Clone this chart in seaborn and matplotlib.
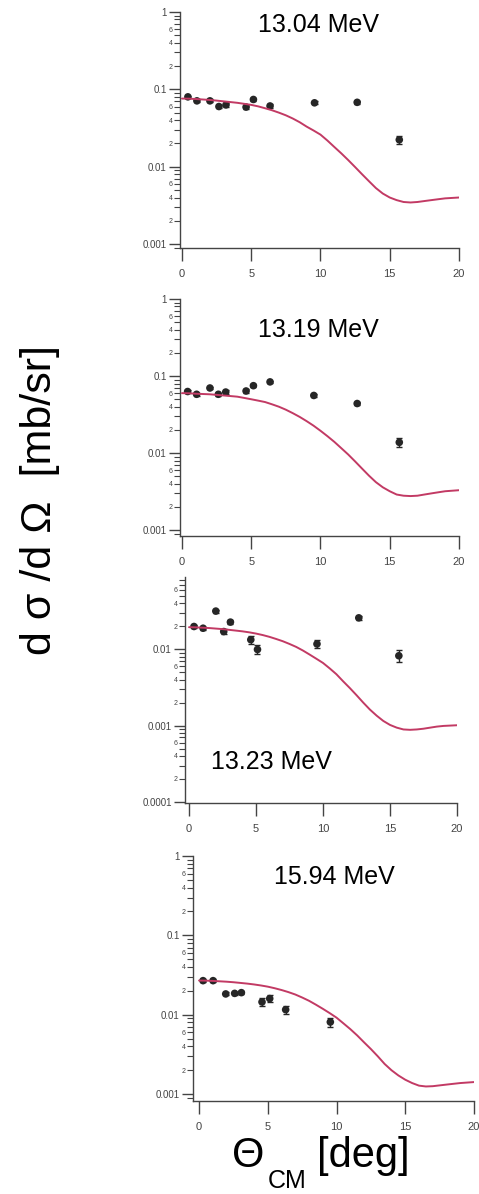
import numpy as np
import matplotlib
matplotlib.use("Agg")
import matplotlib.pyplot as plt
from matplotlib.ticker import FixedLocator, FixedFormatter
import seaborn as sns

# ---- measured angular distributions (theta_CM in deg, dsigma/dOmega in mb/sr) ----
theta_1304 = [0.43, 1.08, 2.02, 2.67, 3.18, 4.63, 5.16, 6.36, 9.57, 12.65, 15.69]
xs_1304 = [0.080, 0.071, 0.071, 0.060, 0.063, 0.059, 0.074, 0.061, 0.067, 0.068, 0.0223]
err_1304 = [0.003, 0.003, 0.003, 0.003, 0.003, 0.003, 0.003, 0.003, 0.003, 0.003, 0.0025]

theta_1319 = [0.41, 1.06, 2.02, 2.63, 3.16, 4.63, 5.16, 6.36, 9.52, 12.65, 15.69]
xs_1319 = [0.063, 0.058, 0.070, 0.058, 0.062, 0.064, 0.075, 0.084, 0.056, 0.044, 0.0138]
err_1319 = [0.003, 0.003, 0.003, 0.003, 0.003, 0.003, 0.003, 0.003, 0.003, 0.002, 0.0018]

theta_1323 = [0.37, 1.05, 2.00, 2.59, 3.09, 4.61, 5.11, 9.55, 12.67, 15.66]
xs_1323 = [0.0198, 0.0188, 0.0315, 0.0170, 0.0226, 0.0133, 0.0099, 0.0117, 0.0257, 0.0082]
err_1323 = [0.0010, 0.0008, 0.0015, 0.0012, 0.0015, 0.0015, 0.0013, 0.0013, 0.0015, 0.0015]

theta_1594 = [0.29, 1.02, 1.94, 2.59, 3.08, 4.58, 5.14, 6.30, 9.55]
xs_1594 = [0.0269, 0.0269, 0.0183, 0.0186, 0.0190, 0.0145, 0.0160, 0.0116, 0.0081]
err_1594 = [0.0012, 0.0012, 0.0008, 0.0008, 0.0008, 0.0017, 0.0017, 0.0013, 0.0010]

# ---- calculated distributions, every 0.5 deg from 0 to 20 ----
theta_calc = [i * 0.5 for i in range(41)]
calc_1304 = [0.0760, 0.0758, 0.0750, 0.0740, 0.0730, 0.0716, 0.0700, 0.0685, 0.0670,
             0.0650, 0.0630, 0.0603, 0.0570, 0.0537, 0.0500, 0.0462, 0.0420, 0.0376,
             0.0330, 0.0294, 0.0260, 0.0218, 0.0180, 0.0149, 0.0122, 0.0099, 0.0080,
             0.0065, 0.0053, 0.0045, 0.0040, 0.0037, 0.0035, 0.00345, 0.0035, 0.0036,
             0.0037, 0.0038, 0.0039, 0.00395, 0.0040]
calc_1319 = [0.0600, 0.0598, 0.0590, 0.0585, 0.0580, 0.0570, 0.0560, 0.0550, 0.0540,
             0.0520, 0.0500, 0.0480, 0.0460, 0.0430, 0.0400, 0.0366, 0.0330, 0.0295,
             0.0260, 0.0227, 0.0195, 0.0166, 0.0140, 0.0116, 0.0096, 0.0078, 0.0063,
             0.0051, 0.0042, 0.0036, 0.0032, 0.0029, 0.0028, 0.00277, 0.0028, 0.0029,
             0.0030, 0.0031, 0.0032, 0.00325, 0.0033]
calc_1323 = [0.0194, 0.0193, 0.0191, 0.0189, 0.0186, 0.0183, 0.0179, 0.0175, 0.0171,
             0.0166, 0.0160, 0.0153, 0.0145, 0.0136, 0.0127, 0.0117, 0.0107, 0.0096,
             0.0085, 0.0075, 0.0066, 0.0056, 0.0047, 0.0038, 0.0031, 0.0025, 0.0020,
             0.00162, 0.00135, 0.00115, 0.00102, 0.00094, 0.00089, 0.00088, 0.00089,
             0.00091, 0.00094, 0.00097, 0.00099, 0.00100, 0.00101]
calc_1594 = [0.0270, 0.0269, 0.0267, 0.0264, 0.0261, 0.0257, 0.0252, 0.0247, 0.0241,
             0.0234, 0.0226, 0.0216, 0.0205, 0.0193, 0.0180, 0.0165, 0.0150, 0.0134,
             0.0119, 0.0105, 0.0092, 0.0078, 0.0066, 0.0055, 0.0045, 0.0037, 0.0030,
             0.0024, 0.0020, 0.00172, 0.00152, 0.00138, 0.00128, 0.00125, 0.00126,
             0.00129, 0.00132, 0.00135, 0.00138, 0.00140, 0.00142]

energy_labels = ["13.04 MeV", "13.19 MeV", "13.23 MeV", "15.94 MeV"]
x_ticks = [0, 5, 10, 15, 20]

sns.set_theme(style="ticks")
plt.rcParams["font.family"] = ["Liberation Sans", "DejaVu Sans"]

W, H = 479, 1194
fig = plt.figure(figsize=(W / 100, H / 100), dpi=100)

CURVE = "#c23a64"
POINT = "#262626"
AXC = "#444444"


def add_panel(px_left, px_right, px_top, px_bottom):
    return fig.add_axes([px_left / W, 1 - px_bottom / H,
                         (px_right - px_left) / W, (px_bottom - px_top) / H])


def decorate(ax, xlim, ylim):
    ax.set_yscale("log")
    ax.set_xlim(*xlim)
    ax.set_ylim(*ylim)
    sns.despine(ax=ax)
    for s in ("left", "bottom"):
        ax.spines[s].set_color(AXC)
        ax.spines[s].set_linewidth(1.0)
    ax.set_xticks(x_ticks)
    ax.set_xticklabels([str(t) for t in x_ticks])
    lo, hi = ylim
    d0, d1 = int(np.floor(np.log10(lo))), int(np.ceil(np.log10(hi)))
    majors = [10.0 ** k for k in range(d0, d1 + 1) if lo <= 10.0 ** k <= hi * 1.0001]
    ax.yaxis.set_major_locator(FixedLocator(majors))
    ax.yaxis.set_major_formatter(FixedFormatter(
        [("%.4f" % m).rstrip("0").rstrip(".") if m < 1 else "1" for m in majors]))
    minors, mlabels = [], []
    for k in range(d0, d1):
        for m in range(2, 10):
            v = m * 10.0 ** k
            if lo <= v <= hi:
                minors.append(v)
                mlabels.append(str(m) if m in (2, 4, 6) else "")
    ax.yaxis.set_minor_locator(FixedLocator(minors))
    ax.yaxis.set_minor_formatter(FixedFormatter(mlabels))
    ax.tick_params(axis="y", which="major", length=8, width=1, labelsize=7,
                   colors=AXC, pad=1.5)
    ax.tick_params(axis="y", which="minor", length=4, width=0.8, labelsize=5,
                   colors=AXC, pad=1.5)
    ax.tick_params(axis="x", which="major", length=9, width=1, labelsize=8,
                   colors=AXC, pad=6)
    ax.tick_params(axis="x", which="minor", length=0)
    ax.set_xlabel("")
    ax.set_ylabel("")
    ax.set_facecolor("white")


def draw(ax, th, xs, err, calc):
    ax.errorbar(th, xs, yerr=err, fmt="none", ecolor=POINT, elinewidth=1.0,
                capsize=2.5, capthick=1.0, zorder=2)
    sns.scatterplot(x=th, y=xs, ax=ax, color=POINT, s=30, edgecolor="none",
                    zorder=3, legend=False)
    sns.lineplot(x=theta_calc, y=calc, ax=ax, color=CURVE, lw=1.4, zorder=4,
                 legend=False)


panels = [
    (add_panel(180, 459, 12, 248), (-0.14, 20), (0.00089, 1.0),
     theta_1304, xs_1304, err_1304, calc_1304),
    (add_panel(180, 459, 299, 536), (-0.14, 20), (0.00084, 1.0),
     theta_1319, xs_1319, err_1319, calc_1319),
    (add_panel(185, 457, 577, 803), (-0.30, 20), (0.000097, 0.088),
     theta_1323, xs_1323, err_1323, calc_1323),
    (add_panel(193, 474, 856, 1101), (-0.44, 20), (0.00082, 1.0),
     theta_1594, xs_1594, err_1594, calc_1594),
]

for ax, xl, yl, th, xs, err, calc in panels:
    draw(ax, th, xs, err, calc)
    decorate(ax, xl, yl)

# energy labels
label_pos = [(318, 25), (318, 330), (271, 762), (334, 877)]
for (x, y), txt in zip(label_pos, energy_labels):
    fig.text(x / W, 1 - y / H, txt, fontsize=18, ha="center", va="center",
             color="black")

# axis titles
fig.text(40 / W, 1 - 500 / H, "d σ /d Ω  [mb/sr]", fontsize=31, rotation=90,
         ha="center", va="center", color="black")
fig.text(232 / W, 1 - 1167 / H, "Θ", fontsize=30, ha="left", va="baseline",
         color="black")
fig.text(268 / W, 1 - 1188 / H, "CM", fontsize=18, ha="left", va="baseline",
         color="black")
fig.text(317 / W, 1 - 1167 / H, "[deg]", fontsize=30, ha="left", va="baseline",
         color="black")

fig.savefig("out.png", dpi=100, facecolor="white")
